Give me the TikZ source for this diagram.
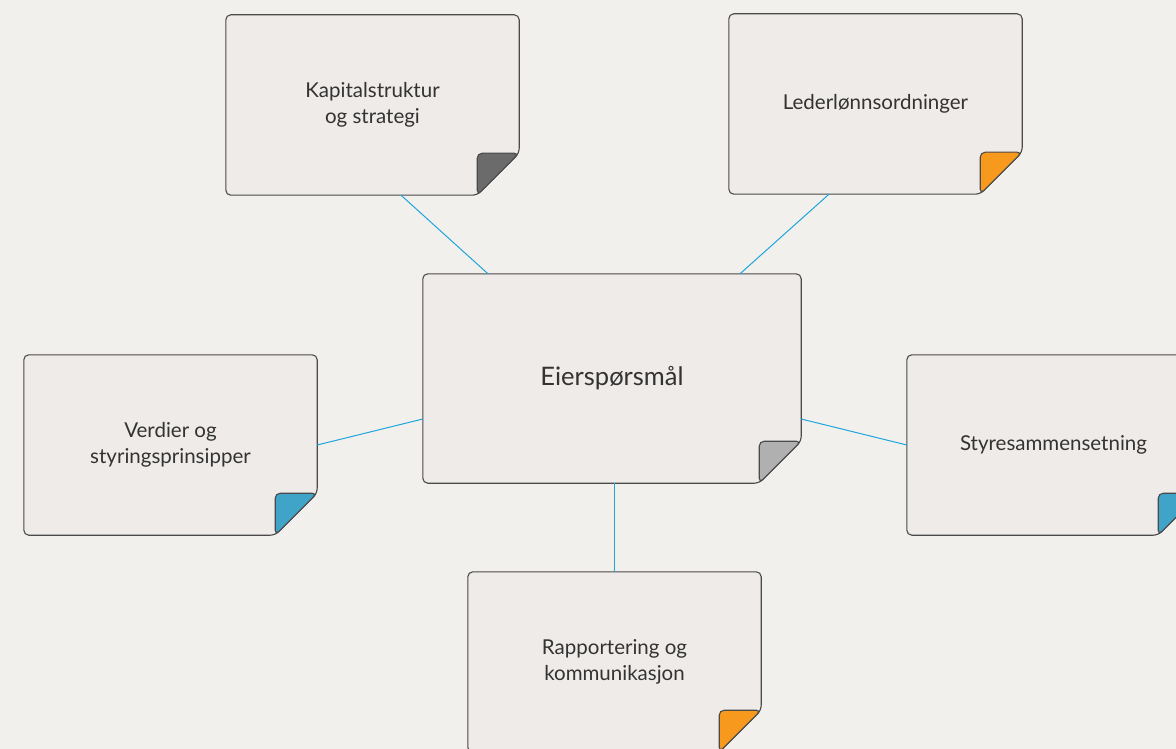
\documentclass[tikz,border=0pt]{standalone}
\usepackage{fontspec}
\setmainfont{Lato}
\usetikzlibrary{backgrounds,calc}
\definecolor{bgc}{HTML}{F2F0ED}
\definecolor{boxc}{HTML}{EEEBE8}
\definecolor{edgec}{HTML}{4A4A4A}
\definecolor{linec}{HTML}{1DA6DC}
\definecolor{txtc}{HTML}{333333}
\definecolor{foldgray}{HTML}{6B6B6B}
\definecolor{foldlight}{HTML}{B0B0B0}
\definecolor{foldorange}{HTML}{F7991C}
\definecolor{foldblue}{HTML}{40A4C8}
\tikzset{
  notebox/.style={draw=none, minimum width=293pt, minimum height=180pt, align=center, text=txtc, font=\fontsize{20.5}{26}\selectfont},
  link/.style={draw=linec, line width=1pt},
}
\newcommand{\notedraw}[3]{% name, fold colour, fold size
  \filldraw[fill=boxc, draw=edgec, line width=1.1pt, rounded corners=5pt]
    ([xshift=-#3]#1.south east) -- (#1.south west) -- (#1.north west) -- (#1.north east) -- ([yshift=#3]#1.south east) -- cycle;
  \filldraw[fill=#2, draw=edgec, line width=1.1pt, rounded corners=5pt]
    ([xshift=-#3]#1.south east) -- ([xshift=-#3,yshift=#3]#1.south east) -- ([yshift=#3]#1.south east) -- cycle;
}
\begin{document}
\begin{tikzpicture}[x=1pt,y=-1pt]
\useasboundingbox (0,0) rectangle (1176,749);
\clip (0,0) rectangle (1176,749);
\node[notebox] (kap) at (372.5,105) {Kapitalstruktur\\og strategi};
\node[notebox] (led) at (875.5,104) {Lederlønnsordninger};
\node[notebox, minimum width=378pt, minimum height=209pt, font=\fontsize{25.5}{30}\selectfont] (ctr) at (612,378.5) {Eierspørsmål};
\node[notebox] (ver) at (170.5,445) {Verdier og\\styringsprinsipper};
\node[notebox] (sty) at (1053.5,445) {Styresammensetning};
\node[notebox] (rap) at (614.5,662) {\raisebox{4pt}{\parbox{280pt}{\centering Rapportering og\\kommunikasjon}}};
\begin{pgfonlayer}{background}
  \fill[bgc] (0,0) rectangle (1176,749);
  \notedraw{kap}{foldgray}{42pt}
  \notedraw{led}{foldorange}{42pt}
  \notedraw{ctr}{foldlight}{42pt}
  \notedraw{ver}{foldblue}{42pt}
  \notedraw{sty}{foldblue}{42pt}
  \notedraw{rap}{foldorange}{42pt}
\end{pgfonlayer}
\draw[link] ([xshift=28.5pt]kap.south) -- ([xshift=-124pt]ctr.north);
\draw[link] ([xshift=-46.5pt]led.south) -- ([xshift=128pt]ctr.north);
\draw[link] (ver.east) -- ([yshift=-40.5pt]ctr.west);
\draw[link] ([yshift=-40.5pt]ctr.east) -- (sty.west);
\draw[link] (rap.north) -- (rap.north |- ctr.south);
\end{tikzpicture}
\end{document}
